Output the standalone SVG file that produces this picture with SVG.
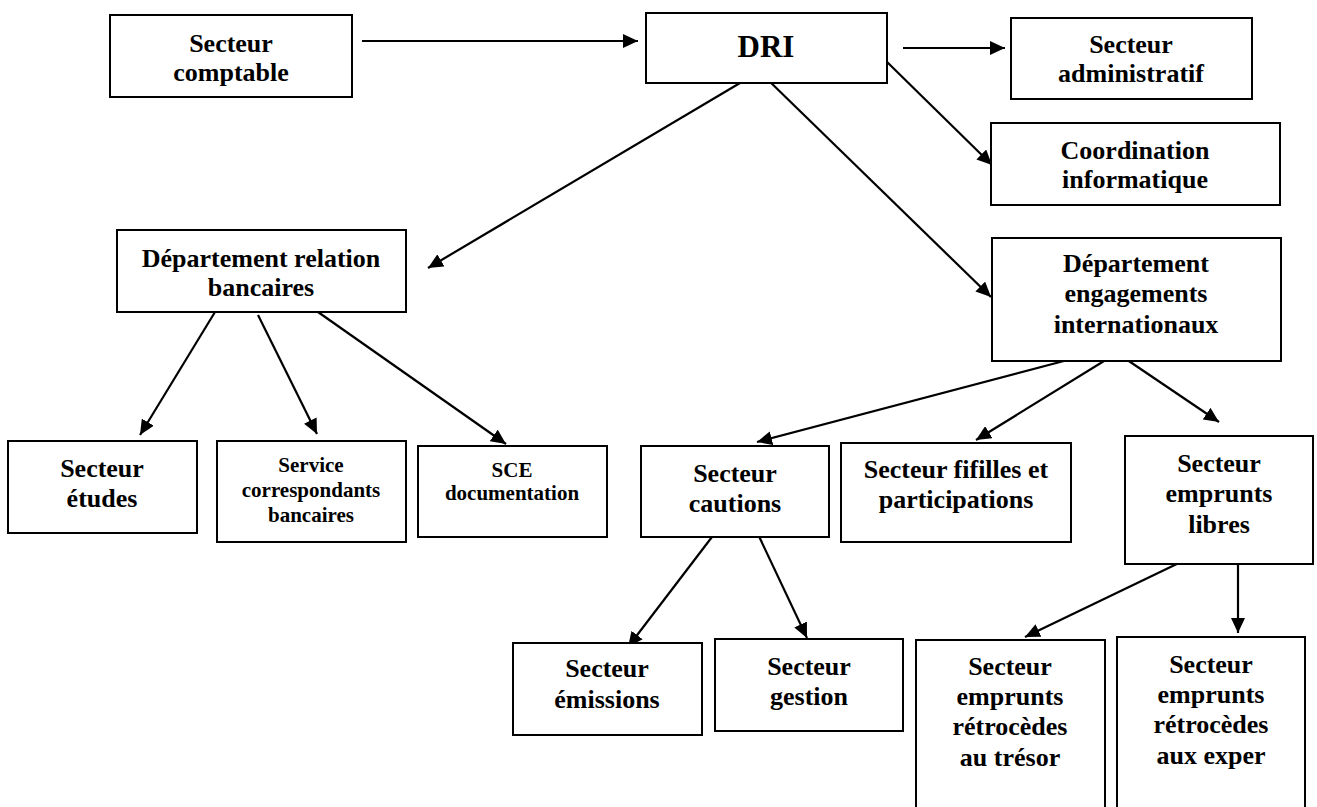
<svg xmlns="http://www.w3.org/2000/svg" width="1317" height="807" viewBox="0 0 1317 807">
<style>
  .box { fill: #fff; stroke: #000; stroke-width: 2; }
  .t { font-family: "Liberation Serif", "Times New Roman", serif; font-weight: bold; font-size: 26px; fill: #000; text-anchor: middle; }
  .s { font-size: 21px; }
  .big { font-size: 31px; }
  .c { fill: none; stroke: #000; stroke-width: 2.2; marker-end: url(#ah); }
</style>
<defs>
  <marker id="ah" markerWidth="16" markerHeight="14" refX="15" refY="7" orient="auto" markerUnits="userSpaceOnUse">
    <path d="M0,0 L15,7 L0,14 z" fill="#000"/>
  </marker>
</defs>
<rect width="1317" height="807" fill="#fff"/>

<g id="connectors">
  <line class="c" x1="362" y1="41" x2="638" y2="41"/>
  <line class="c" x1="903" y1="48" x2="1005" y2="48"/>
  <line class="c" x1="884" y1="59" x2="992" y2="165"/>
  <line class="c" x1="740" y1="83" x2="428" y2="268"/>
  <line class="c" x1="765" y1="77" x2="991" y2="297"/>
  <line class="c" x1="215" y1="312" x2="140" y2="435"/>
  <line class="c" x1="258" y1="315" x2="317" y2="434"/>
  <line class="c" x1="318" y1="312" x2="506" y2="444"/>
  <line class="c" x1="1079" y1="357" x2="757" y2="442"/>
  <line class="c" x1="1117" y1="353" x2="976" y2="440"/>
  <line class="c" x1="1117" y1="353" x2="1219" y2="422"/>
  <line class="c" x1="715" y1="533" x2="628" y2="647"/>
  <line class="c" x1="756" y1="530" x2="807" y2="638"/>
  <line class="c" x1="1183" y1="561" x2="1025" y2="637"/>
  <line class="c" x1="1238" y1="564" x2="1238" y2="633"/>
</g>

<g id="secteur-comptable">
  <rect class="box" x="110" y="15" width="242" height="82"/>
  <text class="t" x="231" y="52">Secteur</text>
  <text class="t" x="231" y="81">comptable</text>
</g>
<g id="dri">
  <rect class="box" x="646" y="13" width="241" height="70"/>
  <text class="t big" x="766" y="57">DRI</text>
</g>
<g id="secteur-administratif">
  <rect class="box" x="1011" y="18" width="241" height="81"/>
  <text class="t" x="1131" y="53">Secteur</text>
  <text class="t" x="1131" y="82">administratif</text>
</g>
<g id="coordination-informatique">
  <rect class="box" x="991" y="123" width="289" height="82"/>
  <text class="t" x="1135" y="159">Coordination</text>
  <text class="t" x="1135" y="188">informatique</text>
</g>
<g id="departement-relation">
  <rect class="box" x="117" y="230" width="289" height="82"/>
  <text class="t" x="261" y="267">Département relation</text>
  <text class="t" x="261" y="296">bancaires</text>
</g>
<g id="departement-engagements">
  <rect class="box" x="992" y="238" width="289" height="123"/>
  <text class="t" x="1136" y="272">Département</text>
  <text class="t" x="1136" y="302">engagements</text>
  <text class="t" x="1136" y="333">internationaux</text>
</g>
<g id="secteur-etudes">
  <rect class="box" x="8" y="441" width="189" height="92"/>
  <text class="t" x="102" y="477">Secteur</text>
  <text class="t" x="102" y="507">études</text>
</g>
<g id="service-correspondants">
  <rect class="box" x="217" y="441" width="189" height="101"/>
  <text class="t s" x="311" y="472">Service</text>
  <text class="t s" x="311" y="497">correspondants</text>
  <text class="t s" x="311" y="522">bancaires</text>
</g>
<g id="sce-documentation">
  <rect class="box" x="418" y="446" width="189" height="91"/>
  <text class="t s" x="512" y="477">SCE</text>
  <text class="t s" x="512" y="500">documentation</text>
</g>
<g id="secteur-cautions">
  <rect class="box" x="641" y="446" width="188" height="91"/>
  <text class="t" x="735" y="482">Secteur</text>
  <text class="t" x="735" y="512">cautions</text>
</g>
<g id="secteur-fifilles">
  <rect class="box" x="841" y="443" width="230" height="99"/>
  <text class="t" x="956" y="478">Secteur fifilles et</text>
  <text class="t" x="956" y="508">participations</text>
</g>
<g id="secteur-emprunts-libres">
  <rect class="box" x="1125" y="436" width="188" height="128"/>
  <text class="t" x="1219" y="472">Secteur</text>
  <text class="t" x="1219" y="502">emprunts</text>
  <text class="t" x="1219" y="533">libres</text>
</g>
<g id="secteur-emissions">
  <rect class="box" x="513" y="643" width="189" height="92"/>
  <text class="t" x="607" y="677">Secteur</text>
  <text class="t" x="607" y="708">émissions</text>
</g>
<g id="secteur-gestion">
  <rect class="box" x="715" y="639" width="188" height="92"/>
  <text class="t" x="809" y="675">Secteur</text>
  <text class="t" x="809" y="705">gestion</text>
</g>
<g id="secteur-emprunts-tresor">
  <rect class="box" x="916" y="640" width="189" height="172"/>
  <text class="t" x="1010" y="675">Secteur</text>
  <text class="t" x="1010" y="705">emprunts</text>
  <text class="t" x="1010" y="735">rétrocèdes</text>
  <text class="t" x="1010" y="766">au trésor</text>
</g>
<g id="secteur-emprunts-exper">
  <rect class="box" x="1117" y="637" width="188" height="175"/>
  <text class="t" x="1211" y="673">Secteur</text>
  <text class="t" x="1211" y="703">emprunts</text>
  <text class="t" x="1211" y="733">rétrocèdes</text>
  <text class="t" x="1211" y="764">aux exper</text>
</g>
</svg>
